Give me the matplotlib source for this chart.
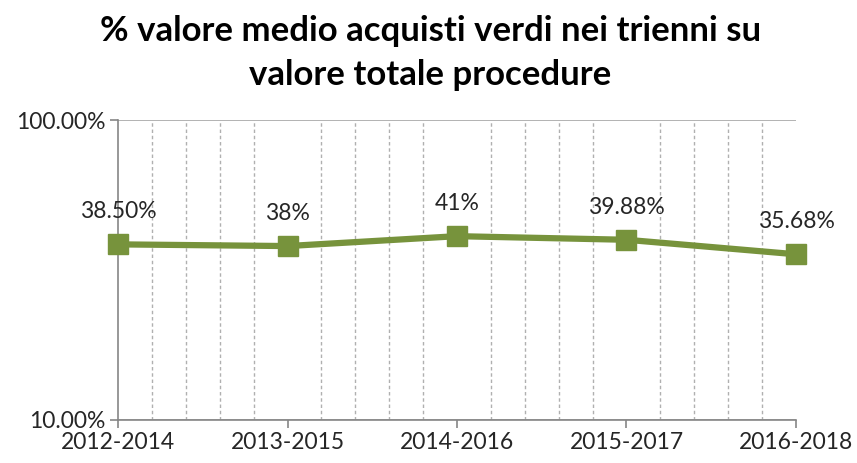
import numpy as np
import matplotlib.pyplot as plt
from matplotlib.ticker import FixedLocator, NullLocator

trienni = ["2012-2014", "2013-2015", "2014-2016", "2015-2017", "2016-2018"]
valori = [38.50, 38.0, 41.0, 39.88, 35.68]
etichette = ["38.50%", "38%", "41%", "39.88%", "35.68%"]
yticks = [10, 100]
ytick_labels = ["10.00%", "100.00%"]

plt.rcParams['font.family'] = ['Lato', 'DejaVu Sans']
fig = plt.figure(figsize=(8.57, 4.63), dpi=100)
ax = fig.add_axes([0.1377, 0.0929, 0.7911, 0.6479])

x = np.arange(len(trienni))
ax.plot(x, valori, color="#77933C", lw=4.5, marker="s", ms=14, mec="#77933C",
        clip_on=False, zorder=3)
for xi, v, lab in zip(x, valori, etichette):
    ax.annotate(lab, (xi, v), xytext=(0, 16), textcoords="offset points",
                ha="center", va="bottom", fontsize=16.5, color="#262626")

ax.set_yscale("log")
ax.set_ylim(10, 100)
ax.set_xlim(0, len(trienni) - 1)
ax.yaxis.set_major_locator(FixedLocator(yticks))
ax.yaxis.set_minor_locator(NullLocator())
ax.set_yticklabels(ytick_labels)
ax.set_xticks(x)
ax.set_xticklabels(trienni)
minor = [i + k * 0.2 for i in range(len(trienni) - 1) for k in range(1, 5)]
ax.xaxis.set_minor_locator(FixedLocator(minor))
ax.grid(which="minor", axis="x", color="#b0b0b0", ls=(0, (2.5, 2)), lw=1)
ax.grid(which="major", axis="y", color="#a6a6a6", lw=1.2)
ax.tick_params(axis="x", which="minor", length=0)
ax.tick_params(axis="both", which="major", labelsize=16.5, colors="#868686",
               labelcolor="#262626", length=6, width=1.2)
ax.tick_params(axis="x", pad=3)
ax.tick_params(axis="y", pad=3)
for s in ["top", "right"]:
    ax.spines[s].set_visible(False)
for s in ["left", "bottom"]:
    ax.spines[s].set_color("#868686")
    ax.spines[s].set_linewidth(1.2)

fig.text(0.502, 0.968, "% valore medio acquisti verdi nei trienni su\nvalore totale procedure",
         ha="center", va="top", fontsize=25, fontweight="bold", color="#000000",
         linespacing=1.45)
fig.savefig("out.png", dpi=100)
